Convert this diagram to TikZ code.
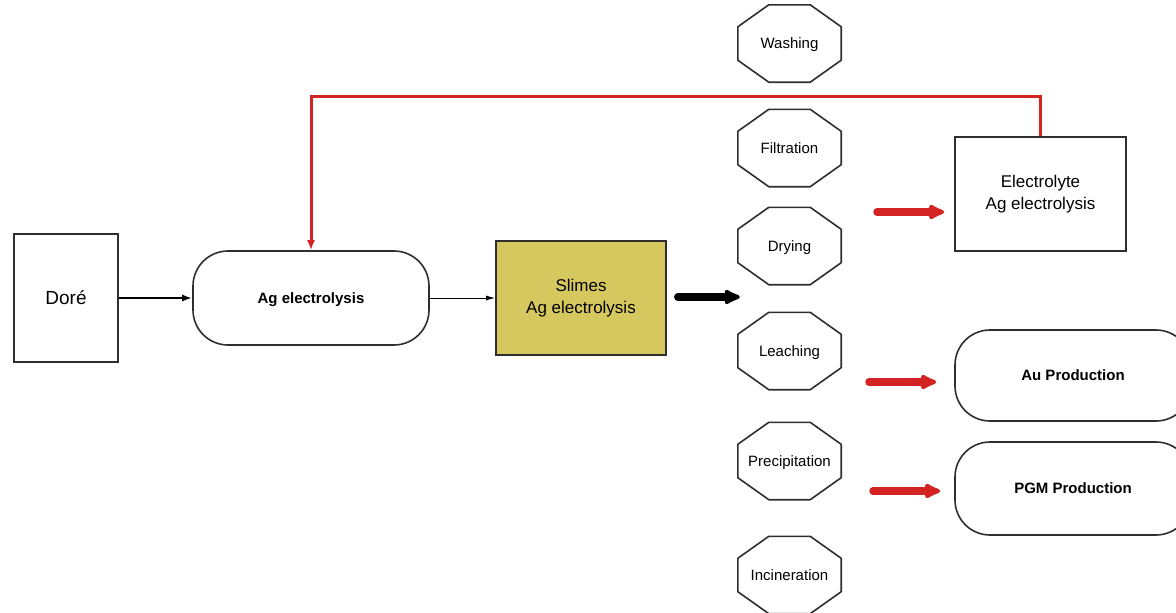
\documentclass[tikz,border=0pt]{standalone}
\usepackage{fontspec}
\setmainfont{Liberation Sans}
\usetikzlibrary{arrows.meta,calc}
\definecolor{edge}{HTML}{2E2E2E}
\definecolor{flowred}{HTML}{D42323}
\definecolor{slimefill}{HTML}{D6C85E}
\tikzset{
  box/.style={draw=edge, line width=1.6pt, rectangle, inner sep=0pt, align=center},
  pill/.style={box, rounded corners=35pt, text depth=0pt, font=\fontsize{15}{18}\selectfont\bfseries},
  octo/.style={rectangle, inner sep=0pt, minimum width=103pt, minimum height=77pt,
    text depth=0pt, font=\fontsize{15}{18}\selectfont},
  octoline/.style={draw=edge, line width=1.6pt, line join=round},
  thinflow/.style={draw=black, line width=1pt, -{Latex[length=9pt,width=5pt]}},
  midflow/.style={draw=black, line width=2.6pt, -{Latex[length=10pt,width=7pt]}},
  fatflow/.style={line width=7.5pt, line cap=round, -{Latex[length=20pt,width=18pt,round]}},
  feedback/.style={draw=flowred, line width=3pt, -{Latex[length=10pt,width=8pt]}}
}
\begin{document}
\begin{tikzpicture}[x=1pt,y=-1pt]
\useasboundingbox (0,0) rectangle (1176,613);
\clip (0,0) rectangle (1176,613);
\fill[white] (0,0) rectangle (1176,613);

% main line
\node[box, minimum width=104pt, minimum height=128pt, font=\fontsize{19}{22}\selectfont] (dore) at (66,298) {Doré};
\node[pill, minimum width=236pt, minimum height=94pt] (agel) at (311,298) {Ag electrolysis};
\node[box, fill=slimefill, minimum width=170pt, minimum height=114pt, font=\fontsize{17}{22}\selectfont] (slimes) at (581,298) {Slimes\\Ag electrolysis};

% treatment steps
\node[octo] (wash) at (789.5,43.5) {Washing};
\node[octo] (filt) at (789.5,148) {Filtration};
\node[octo] (dry) at (789.5,246) {Drying};
\node[octo] (leach) at (789.5,351) {Leaching};
\node[octo] (prec) at (789.5,461) {Precipitation};
\node[octo] (incin) at (789.5,575) {Incineration};
\foreach \n in {wash,filt,dry,leach,prec,incin}
  \draw[octoline] ($(\n.north west)+(31,0)$) -- ($(\n.north east)+(-31,0)$)
    -- ($(\n.north east)+(0,22)$) -- ($(\n.south east)+(0,-22)$)
    -- ($(\n.south east)+(-31,0)$) -- ($(\n.south west)+(31,0)$)
    -- ($(\n.south west)+(0,-22)$) -- ($(\n.north west)+(0,22)$) -- cycle;

% products
\node[box, minimum width=171pt, minimum height=114pt, font=\fontsize{17}{22}\selectfont] (elyte) at (1040.5,194) {Electrolyte\\Ag electrolysis};
\node[pill, minimum width=236pt, minimum height=91pt] (au) at (1073,375.5) {Au Production};
\node[pill, minimum width=236pt, minimum height=93pt] (pgm) at (1073,488.5) {PGM Production};

% flows
\draw[midflow] (dore.east) -- (agel.west);
\draw[thinflow] (agel.east) -- (slimes.west);

\coordinate (sout) at ($(slimes.east)+(11,-1)$);
\coordinate (sin) at ($(dry.south west)+(2,13)$);
\draw[fatflow, draw=black] (sout) -- (sin |- sout);

\coordinate (e1) at (877,212);
\coordinate (a1) at (869,382);
\coordinate (p1) at (873,491);
\draw[fatflow, draw=flowred] (e1) -- ($(elyte.west |- e1)+(-10,0)$);
\draw[fatflow, draw=flowred] (a1) -- ($(au.west |- a1)+(-18,0)$);
\draw[fatflow, draw=flowred] (p1) -- ($(pgm.west |- p1)+(-14,0)$);

% electrolyte recycle
\draw[feedback, line join=miter] (elyte.north) -- ++(0,-40) -| (agel.north);
\end{tikzpicture}
\end{document}
